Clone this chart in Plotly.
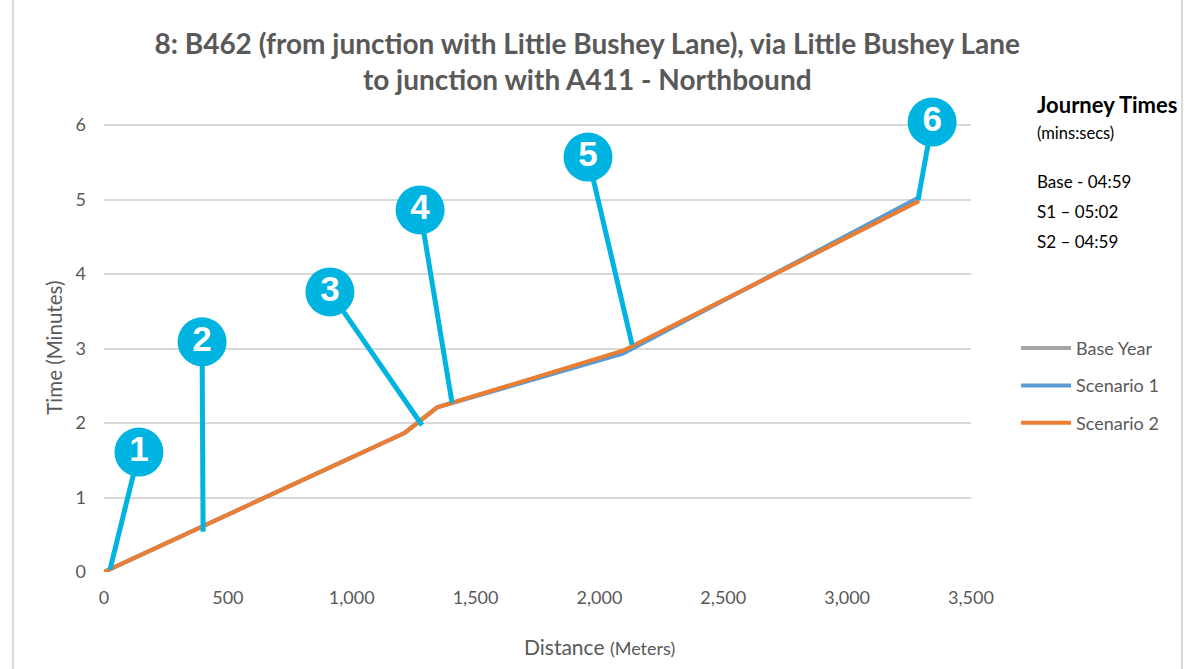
import plotly.graph_objects as go

# Journey time profile (distance in metres, time in minutes)
DISTANCE = [0, 1215, 1345, 2095, 3290]
BASE_YEAR = [0, 1.87, 2.21, 2.96, 4.98]
SCENARIO_1 = [0, 1.87, 2.21, 2.93, 5.03]
SCENARIO_2 = [0, 1.87, 2.21, 2.97, 4.98]

SERIES = {
    "Base Year": (BASE_YEAR, "#A5A5A5"),
    "Scenario 1": (SCENARIO_1, "#5B9BD5"),
    "Scenario 2": (SCENARIO_2, "#ED7D31"),
}

# Numbered callouts: label, circle position, point on the route
CALLOUT_LABELS = ["1", "2", "3", "4", "5", "6"]
CALLOUT_X = [141, 396, 912, 1276, 1954, 3343]
CALLOUT_Y = [1.61, 3.09, 3.76, 4.86, 5.57, 6.04]
TARGET_X = [24, 400, 1284, 1405, 2132, 3286]
TARGET_Y = [0.03, 0.54, 1.97, 2.27, 3.05, 4.99]

JOURNEY_TIMES = ["Base - 04:59", "S1 \u2013 05:02", "S2 \u2013 04:59"]

GREY = "#595959"
CYAN = "#00B4E1"
FONT = "Lato"

# plot area: y=6 sits at 125px, y=0 at 572px; a little headroom so callout 6 shows
Y_TOP = 6 * (572 - 121) / 447

fig = go.Figure()

for name, (vals, col) in SERIES.items():
    fig.add_trace(
        go.Scatter(
            x=DISTANCE,
            y=vals,
            mode="lines",
            name=name,
            legendgroup=name,
            line=dict(color=col, width=4),
        )
    )

for cx, cy, tx, ty in zip(CALLOUT_X, CALLOUT_Y, TARGET_X, TARGET_Y):
    fig.add_trace(
        go.Scatter(
            x=[cx, tx],
            y=[cy, ty],
            mode="lines",
            line=dict(color=CYAN, width=5),
            showlegend=False,
            hoverinfo="skip",
        )
    )

fig.add_trace(
    go.Scatter(
        x=CALLOUT_X,
        y=CALLOUT_Y,
        mode="markers+text",
        marker=dict(size=49, color=CYAN),
        text=[f"<b>{t}</b>" for t in CALLOUT_LABELS],
        textfont=dict(family="Arial", size=35, color="white"),
        textposition="middle center",
        cliponaxis=False,
        showlegend=False,
        hoverinfo="skip",
    )
)

# page frame
fig.add_shape(
    type="rect", xref="paper", yref="paper",
    x0=-0.105, x1=1.2434, y0=-0.25, y1=1.2707,
    line=dict(color="#D9D9D9", width=2), layer="below",
)

fig.add_annotation(
    text="Time (Minutes)", xref="paper", yref="paper",
    x=-0.074, y=0.497, textangle=-90, showarrow=False,
    font=dict(family=FONT, size=20.5, color=GREY),
)
fig.add_annotation(
    text="Distance <span style='font-size:18px'>(Meters)</span>",
    xref="paper", yref="paper", x=0.572, y=-0.197, showarrow=False,
    font=dict(family=FONT, size=21, color=GREY),
)

fig.add_annotation(
    text="<b>Journey Times</b>", xref="paper", yref="paper",
    x=1.074, y=1.036, xanchor="left", yanchor="middle", showarrow=False,
    font=dict(family=FONT, size=22, color="black"),
)
fig.add_annotation(
    text="(mins:secs)", xref="paper", yref="paper",
    x=1.074, y=0.973, xanchor="left", yanchor="middle", showarrow=False,
    font=dict(family=FONT, size=16.5, color="black"),
)
for k, line in enumerate(JOURNEY_TIMES):
    fig.add_annotation(
        text=line, xref="paper", yref="paper",
        x=1.074, y=0.865 - k * 0.066, xanchor="left", yanchor="middle",
        showarrow=False,
        font=dict(family=FONT, size=17, color="black"),
    )

fig.update_layout(
    width=1196,
    height=669,
    margin=dict(l=104, r=225, t=121, b=97),
    paper_bgcolor="white",
    plot_bgcolor="white",
    title=dict(
        text="<b>8: B462 (from junction with Little Bushey Lane), via Little Bushey Lane<br>"
        "to junction with A411 - Northbound</b>",
        x=0.491, xanchor="center", y=0.92, yanchor="middle",
        font=dict(family=FONT, size=28, color=GREY),
    ),
    font=dict(family=FONT, color=GREY),
    legend=dict(
        x=1.052, y=0.537, xanchor="left", yanchor="top",
        font=dict(family=FONT, size=18, color=GREY),
        traceorder="grouped", tracegroupgap=11, itemwidth=50,
        bgcolor="rgba(0,0,0,0)",
    ),
    showlegend=True,
)
fig.update_xaxes(
    range=[0, 3500], dtick=500, tickformat=",",
    showgrid=False, zeroline=False, showline=False,
    tickfont=dict(family=FONT, size=18, color=GREY),
    ticklabelstandoff=13, automargin=False,
)
fig.update_yaxes(
    range=[0, Y_TOP], tick0=0, dtick=1,
    showgrid=True, gridcolor="#D9D9D9", gridwidth=2,
    zeroline=False, showline=False,
    tickfont=dict(family=FONT, size=18, color=GREY),
    ticklabelstandoff=17, automargin=False,
)

fig.write_html(
    "out.html",
    config={"displayModeBar": False},
    post_script="document.body.style.margin='0';",
)
